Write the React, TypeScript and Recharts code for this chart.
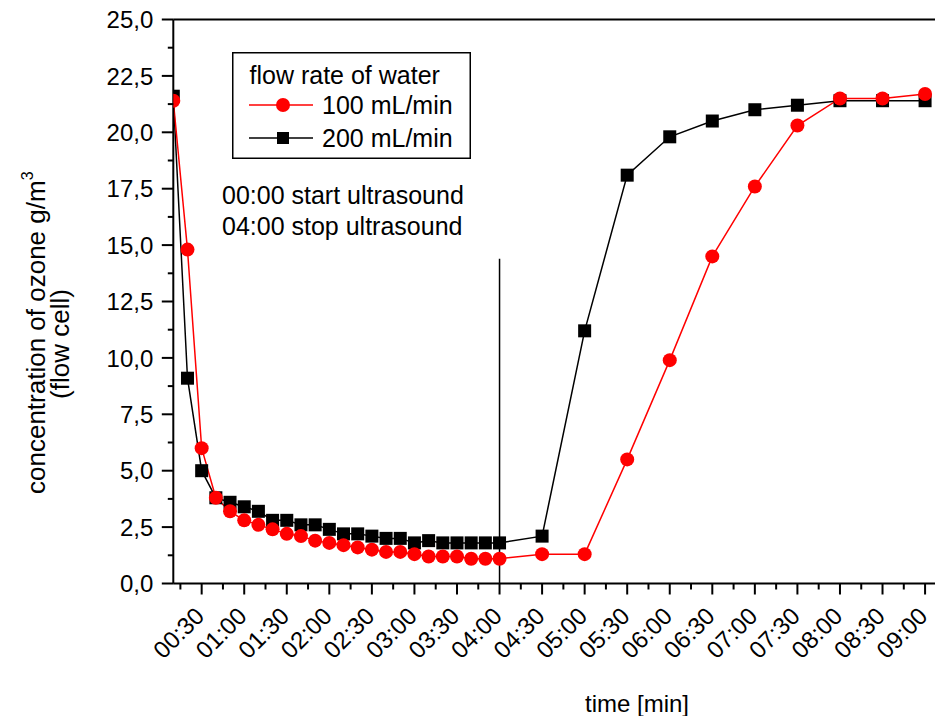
import React from "react";
import { LineChart, Line, XAxis, YAxis, ReferenceLine, Legend } from "recharts";

// time in seconds since ultrasound start
const timeSec = [
  10, 20, 30, 40, 50, 60, 70, 80, 90, 100, 110, 120, 130, 140, 150, 160, 170,
  180, 190, 200, 210, 220, 230, 240, 270, 300, 330, 360, 390, 420, 450, 480,
  510, 540,
];

// 100 mL/min (red circles)
const flow100 = [
  21.4, 14.8, 6.0, 3.8, 3.2, 2.8, 2.6, 2.4, 2.2, 2.1, 1.9, 1.8, 1.7, 1.6, 1.5,
  1.4, 1.4, 1.3, 1.2, 1.2, 1.2, 1.1, 1.1, 1.1, 1.3, 1.3, 5.5, 9.9, 14.5, 17.6,
  20.3, 21.5, 21.5, 21.7,
];

// 200 mL/min (black squares)
const flow200 = [
  21.6, 9.1, 5.0, 3.8, 3.6, 3.4, 3.2, 2.8, 2.8, 2.6, 2.6, 2.4, 2.2, 2.2, 2.1,
  2.0, 2.0, 1.8, 1.9, 1.8, 1.8, 1.8, 1.8, 1.8, 2.1, 11.2, 18.1, 19.8, 20.5,
  21.0, 21.2, 21.4, 21.4, 21.4,
];

const xTickLabels = [
  "00:30", "01:00", "01:30", "02:00", "02:30", "03:00", "03:30", "04:00",
  "04:30", "05:00", "05:30", "06:00", "06:30", "07:00", "07:30", "08:00",
  "08:30", "09:00",
];
const yTickLabels = [
  "0,0", "2,5", "5,0", "7,5", "10,0", "12,5", "15,0", "17,5", "20,0", "22,5",
  "25,0",
];

const stopTime = 240;
const stopLineTop = 14.4;

const toSec = (s: string) => {
  const [m, ss] = s.split(":").map(Number);
  return m * 60 + ss;
};
const xMajor = xTickLabels.map(toSec);
// minor ticks halfway between the labelled ones
const xTicks = xMajor.flatMap((v) => [v - 15, v]);
const yMajor = yTickLabels.map((l) => Number(l.replace(",", ".")));
const yTicks = yMajor.flatMap((v, i) => (i === 0 ? [v] : [v - 1.25, v]));

const data = timeSec.map((t, i) => ({
  t,
  r100: flow100[i],
  r200: flow200[i],
}));

const FONT = "'Liberation Sans', Arial, sans-serif";

const XTick = (props: any) => {
  const { x, y, payload } = props;
  const idx = xMajor.indexOf(payload.value);
  const major = idx >= 0;
  const lx = x + 4;
  const ly = y + 34;
  return (
    <g>
      <line x1={x} x2={x} y1={y} y2={y + (major ? 11 : 6)} stroke="#000" strokeWidth={2} />
      {major && (
        <text
          x={lx}
          y={ly}
          textAnchor="end"
          transform={`rotate(-45, ${lx}, ${ly})`}
          fontSize={24}
          fontFamily={FONT}
          fill="#000"
        >
          {xTickLabels[idx]}
        </text>
      )}
    </g>
  );
};

const YTick = (props: any) => {
  const { x, y, payload } = props;
  const idx = yMajor.indexOf(payload.value);
  const major = idx >= 0;
  return (
    <g>
      <line x1={x - (major ? 11.5 : 5.5)} x2={x} y1={y} y2={y} stroke="#000" strokeWidth={2} />
      {major && (
        <text
          x={x - 20}
          y={y}
          dy="0.36em"
          textAnchor="end"
          fontSize={24}
          fontFamily={FONT}
          fill="#000"
        >
          {yTickLabels[idx]}
        </text>
      )}
    </g>
  );
};

const YLabel = () => (
  <g fontFamily={FONT} fill="#000">
    <text x={45} y={494} transform="rotate(-90, 45, 494)" fontSize={26}>
      concentration of ozone g/m
      <tspan fontSize={16} dy={-12}>3</tspan>
    </text>
    <text x={69} y={344} transform="rotate(-90, 69, 344)" fontSize={26} textAnchor="middle">
      (flow cell)
    </text>
  </g>
);

const XLabel = () => (
  <text x={637} y={712} textAnchor="middle" fontSize={24} fontFamily={FONT} fill="#000">
    time [min]
  </text>
);

const Square = (props: any) => {
  const { cx, cy, index } = props;
  return <rect key={`sq-${index}`} x={cx - 6.5} y={cy - 6.5} width={13} height={13} fill="#000" />;
};

const LegendBox = (props: any) => {
  const items = [...(props.payload || [])].sort((a: any, b: any) =>
    String(a.value).localeCompare(String(b.value))
  );
  return (
    <svg width={240} height={108} style={{ display: "block" }}>
      <rect x={0.75} y={0.75} width={237.5} height={105.5} fill="#fff" stroke="#000" strokeWidth={1.5} />
      <text x={17.5} y={31.5} fontSize={25} fontFamily={FONT} fill="#000">
        flow rate of water
      </text>
      {items.map((it: any, i: number) => {
        const cy = 53 + i * 33;
        const col = it.color;
        return (
          <g key={it.value}>
            <line x1={17} x2={81} y1={cy} y2={cy} stroke={col} strokeWidth={1.5} />
            {it.dataKey === "r100" ? (
              <circle cx={51} cy={cy} r={7} fill={col} />
            ) : (
              <rect x={45} y={cy - 6} width={12} height={12} fill={col} />
            )}
            <text x={90} y={cy + 9} fontSize={25} fontFamily={FONT} fill="#000">
              {it.value}
            </text>
          </g>
        );
      })}
    </svg>
  );
};

export default function App() {
  return (
    <div style={{ position: "absolute", left: 0, top: 0, width: 935, height: 716, background: "#fff" }}>
      <LineChart
        width={935}
        height={716}
        data={data}
        margin={{ top: 19.5, right: 0, bottom: 0, left: 0 }}
      >
        <XAxis
          dataKey="t"
          type="number"
          domain={[10, 547]}
          ticks={xTicks}
          interval={0}
          tickSize={0}
          tickMargin={0}
          tick={<XTick />}
          height={132.5}
          axisLine={{ stroke: "#000", strokeWidth: 2 }}
          tickLine={false}
          label={<XLabel />}
          allowDataOverflow
        />
        <YAxis
          type="number"
          domain={[0, 25]}
          ticks={yTicks}
          interval={0}
          tickSize={0}
          tickMargin={0}
          tick={<YTick />}
          width={173.3}
          axisLine={{ stroke: "#000", strokeWidth: 2 }}
          tickLine={false}
          label={<YLabel />}
        />
        <ReferenceLine y={25} stroke="#000" strokeWidth={2} />
        <ReferenceLine
          segment={[
            { x: stopTime, y: 0 },
            { x: stopTime, y: stopLineTop },
          ]}
          stroke="#000"
          strokeWidth={1.5}
        />
        <Line
          dataKey="r200"
          name="200 mL/min"
          stroke="#000"
          strokeWidth={1.5}
          dot={<Square />}
          activeDot={false}
          isAnimationActive={false}
        />
        <Line
          dataKey="r100"
          name="100 mL/min"
          stroke="#ff0000"
          strokeWidth={1.5}
          dot={{ r: 7, fill: "#ff0000", stroke: "none" }}
          activeDot={false}
          isAnimationActive={false}
        />
        <Legend
          layout="horizontal"
          verticalAlign="middle"
          align="center"
          content={<LegendBox />}
          wrapperStyle={{ left: 231.5, top: 51.5, width: 240, height: 108 }}
        />
      </LineChart>
      <svg
        width={935}
        height={716}
        style={{ position: "absolute", left: 0, top: 0, pointerEvents: "none" }}
      >
        <text x={222} y={204} fontSize={25} fontFamily={FONT} fill="#000">
          00:00 start ultrasound
        </text>
        <text x={222} y={235} fontSize={25} fontFamily={FONT} fill="#000">
          04:00 stop ultrasound
        </text>
      </svg>
    </div>
  );
}
